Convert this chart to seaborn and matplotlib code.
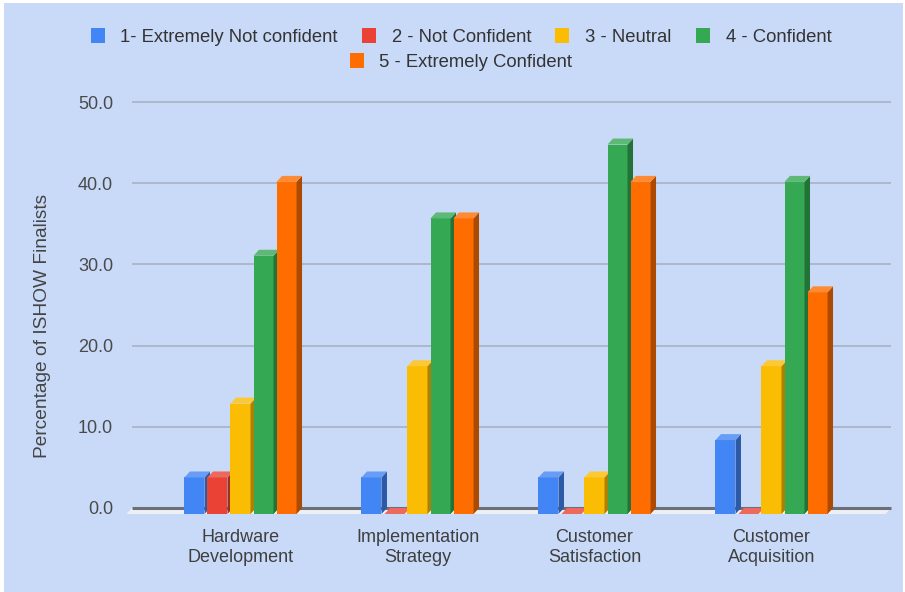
import matplotlib
matplotlib.use("Agg")
import matplotlib.pyplot as plt
from matplotlib.patches import Polygon, Rectangle
from matplotlib.colors import to_rgb
import seaborn as sns
import pandas as pd
import numpy as np

# Survey results: share of ISHOW finalists (%) per confidence level
categories = ["Hardware\nDevelopment", "Implementation\nStrategy",
              "Customer\nSatisfaction", "Customer\nAcquisition"]
levels = ["1- Extremely Not confident", "2 - Not Confident", "3 - Neutral",
          "4 - Confident", "5 - Extremely Confident"]
extremely_not_confident = [4.5, 4.5, 4.5, 9.1]
not_confident = [4.5, 0.0, 0.0, 0.0]
neutral = [13.6, 18.2, 4.5, 18.2]
confident = [31.8, 36.4, 45.5, 40.9]
extremely_confident = [40.9, 36.4, 40.9, 27.3]
y_ticks = [0, 10, 20, 30, 40, 50]
colors = ["#4285f4", "#ea4335", "#fbbc04", "#34a853", "#ff6d01"]

series = [extremely_not_confident, not_confident, neutral, confident, extremely_confident]
df = pd.DataFrame({
    "category": [c for _ in levels for c in categories],
    "level": [lv for lv in levels for _ in categories],
    "value": [v for s in series for v in s],
})

W, H = 905, 592
fig = plt.figure(figsize=(W / 100, H / 100), dpi=100, facecolor="white")
fig.patches.append(Rectangle((4 / W, 0), (W - 6) / W, (H - 3) / H,
                             transform=fig.transFigure, facecolor="#c9daf8",
                             edgecolor="none", zorder=-10))

ax_l, ax_r, ax_b, ax_t = 120, 895, 525, 95
ax = fig.add_axes([ax_l / W, (H - ax_b) / H, (ax_r - ax_l) / W, (ax_b - ax_t) / H])
ax.set_facecolor("none")
ax.set_zorder(1)

sns.barplot(data=df, x="category", y="value", hue="level", hue_order=levels,
            order=categories, palette=colors, saturation=1, width=0.65,
            gap=0.13, errorbar=None, ax=ax)

# pixel geometry of the axes
px_x = 177.0            # pixels per category
px_y = 8.12             # pixels per percentage point
x0c = 240.5             # pixel x of first category
ax.set_xlim(-(x0c - ax_l) / px_x, 3 + (ax_r - (x0c + 3 * px_x)) / px_x)
ax.set_ylim(-(ax_b - 508) / px_y, (508 - ax_t) / px_y)

# 3-D depth offsets (data units)
dx = 5.5 / px_x
dz = 6.0 / px_y

gx0 = (132 - x0c) / px_x
gx1 = 3 + (891 - (x0c + 3 * px_x)) / px_x

# back-wall gridlines
ax.hlines(y_ticks[1:], gx0, gx1, color="#aab5c9", lw=1.3, zorder=1)
# floor and baseline
ax.add_patch(Polygon([(gx0, 0), (gx1, 0), (gx1 - dx, -dz), (gx0 - dx, -dz)],
                     closed=True, facecolor="#eef0f3", edgecolor="none", zorder=1.5))
ax.hlines(0, gx0, gx1, color="#6a6f79", lw=2.2, zorder=2)


def shade(c, f):
    r = np.array(to_rgb(c))
    return tuple(r * f)


def tint(c, f):
    r = np.array(to_rgb(c))
    return tuple(r + (1 - r) * f)


for k, (cont, col) in enumerate(zip(ax.containers, colors)):
    z = 3 + k
    for bar in cont.patches:
        x = bar.get_x()
        w = bar.get_width()
        h = bar.get_height()
        # front face sits on the front edge of the floor
        bar.set_y(-dz)
        bar.set_height(h)
        bar.set_zorder(z)
        bar.set_edgecolor("none")
        top = h - dz
        if h > 0:
            ax.add_patch(Polygon([(x + w, -dz), (x + w + dx, 0), (x + w + dx, top + dz), (x + w, top)],
                                 closed=True, facecolor=shade(col, 0.68),
                                 edgecolor="none", zorder=z))
        ax.add_patch(Polygon([(x, top), (x + dx, top + dz), (x + w + dx, top + dz), (x + w, top)],
                             closed=True, facecolor=tint(col, 0.2),
                             edgecolor="none", zorder=z))

for s in ax.spines.values():
    s.set_visible(False)

ax.set_yticks(y_ticks)
ax.set_yticklabels([f"{v:.1f}" for v in y_ticks])
ax.tick_params(axis="y", length=0, pad=5, labelsize=13, labelcolor="#4a4a4a")
ax.tick_params(axis="x", length=0, pad=3, labelsize=13, labelcolor="#3f3f3f")
ax.set_xlabel("")
ax.set_ylabel("Percentage of ISHOW Finalists", fontsize=13.8, color="#444444")
ax.yaxis.set_label_coords((51 - ax_l) / (ax_r - ax_l), (ax_b - 326) / (ax_b - ax_t))

for t in ax.get_xticklabels() + ax.get_yticklabels() + [ax.yaxis.label]:
    t.set_fontfamily("Liberation Sans")

handles, labels = ax.get_legend_handles_labels()
ax.get_legend().remove()
leg_kw = dict(loc="center", frameon=False, handlelength=0.76, handleheight=0.9,
              handletextpad=0.86, columnspacing=1.3,
              prop={"family": "Liberation Sans", "size": 13.3}, labelcolor="#333333")
fig.legend(handles[:4], labels[:4], ncol=4, bbox_to_anchor=(461 / W, 1 - 37 / H), **leg_kw)
fig.legend(handles[4:], labels[4:], ncol=1, bbox_to_anchor=(461 / W, 1 - 62 / H), **leg_kw)

fig.savefig("out.png", dpi=100, facecolor=fig.get_facecolor())
